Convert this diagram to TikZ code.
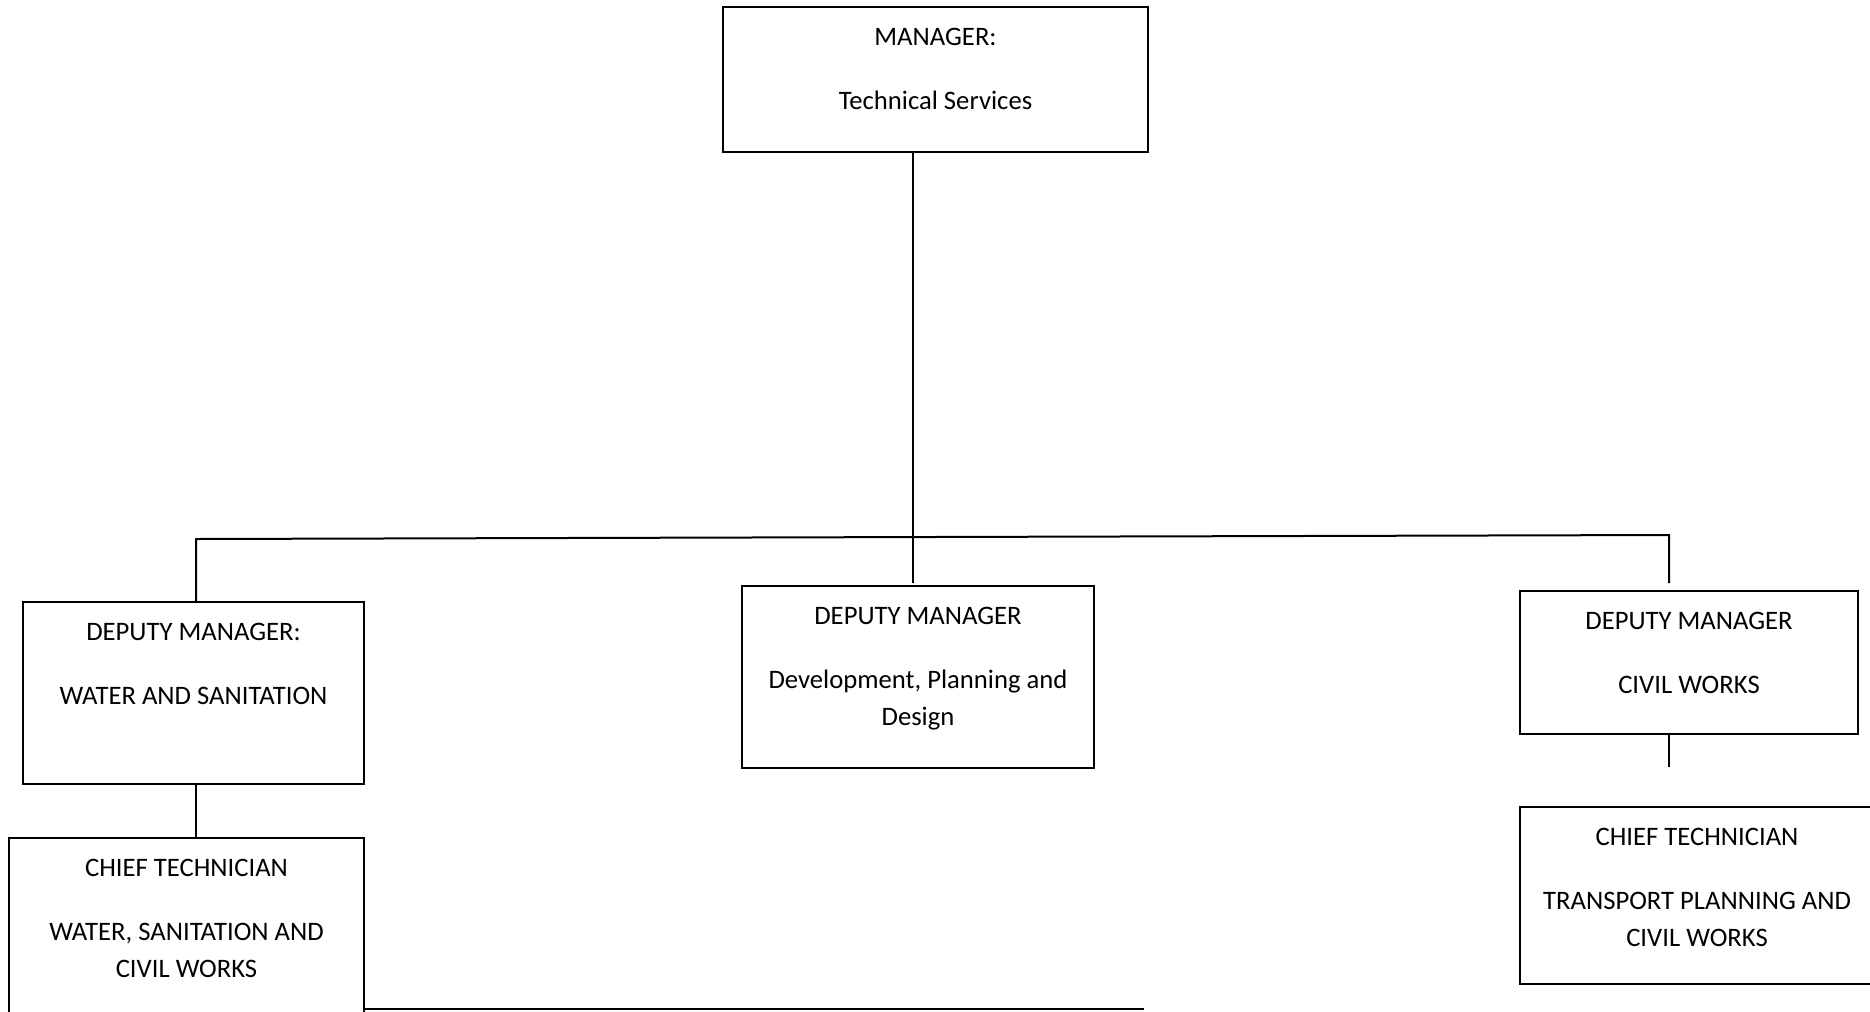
\documentclass[tikz,border=0pt]{standalone}
\usepackage{fontspec}
\setmainfont{Carlito}
\usetikzlibrary{calc,fit}

\tikzset{
  box/.style={draw, line width=0.75pt, inner sep=0pt, outer sep=0pt},
  txt/.style={anchor=north, inner sep=0pt, outer sep=0pt, align=center,
              font=\fontsize{10}{13.9}\selectfont},
  link/.style={line width=0.75pt},
}

\begin{document}
\begin{tikzpicture}[x=0.375pt, y=-0.375pt]
  \useasboundingbox (0,0) rectangle (1870,1011);
  \clip (0,0) rectangle (1870,1011);
  \fill[white] (0,0) rectangle (1870,1011);

  % boxes
  \node[box, fit={(723,7) (1148,152)}] (mgr) {};
  \node[box, fit={(23,602) (364,784)}] (dws) {};
  \node[box, fit={(742,586) (1094,768)}] (ddp) {};
  \node[box, fit={(1520,591) (1858,734)}] (dcw) {};
  \node[box, fit={(9,838) (364,1040)}] (cws) {};
  \node[box, fit={(1520,807) (1874,984)}] (ctp) {};

  % box texts
  \node[txt] (mgrT) at ($(mgr.north)+(0,13)$) {\strut MANAGER:\\[10pt]Technical Services};
  \node[txt] (dwsT) at ($(dws.north)+(0,13)$) {\strut DEPUTY MANAGER:\\[10pt]WATER AND SANITATION};
  \node[txt] (ddpT) at ($(ddp.north)+(0,13)$) {\strut DEPUTY MANAGER\\[10pt]Development, Planning and\\Design};
  \node[txt] (dcwT) at ($(dcw.north)+(0,13)$) {\strut DEPUTY MANAGER\\[10pt]CIVIL WORKS};
  \node[txt] (cwsT) at ($(cws.north)+(0,13)$) {\strut CHIEF TECHNICIAN\\[10pt]WATER, SANITATION AND\\CIVIL WORKS};
  \node[txt] (ctpT) at ($(ctp.north)+(0,13)$) {\strut CHIEF TECHNICIAN\\[10pt]TRANSPORT PLANNING AND\\CIVIL WORKS};

  % junction points of the connectors
  \coordinate (trunkTop) at (913,152);
  \coordinate (trunkEnd) at (913,583);
  \coordinate (busL) at (196,539);
  \coordinate (busR) at (1669,535);
  \coordinate (dropR) at (1669,583);
  \coordinate (stubR) at (1669,767);
  \coordinate (tail) at (1144,1009);

  % connectors
  \draw[link] (trunkTop) -- (trunkEnd);
  \draw[link] (busL |- dws.north) -- (busL) -- (busR) -- (dropR);
  \draw[link] (busL |- dws.south) -- (busL |- cws.north);
  \draw[link] (stubR |- dcw.south) -- (stubR);
  \draw[link] (cws.east |- tail) -- (tail);
\end{tikzpicture}
\end{document}
